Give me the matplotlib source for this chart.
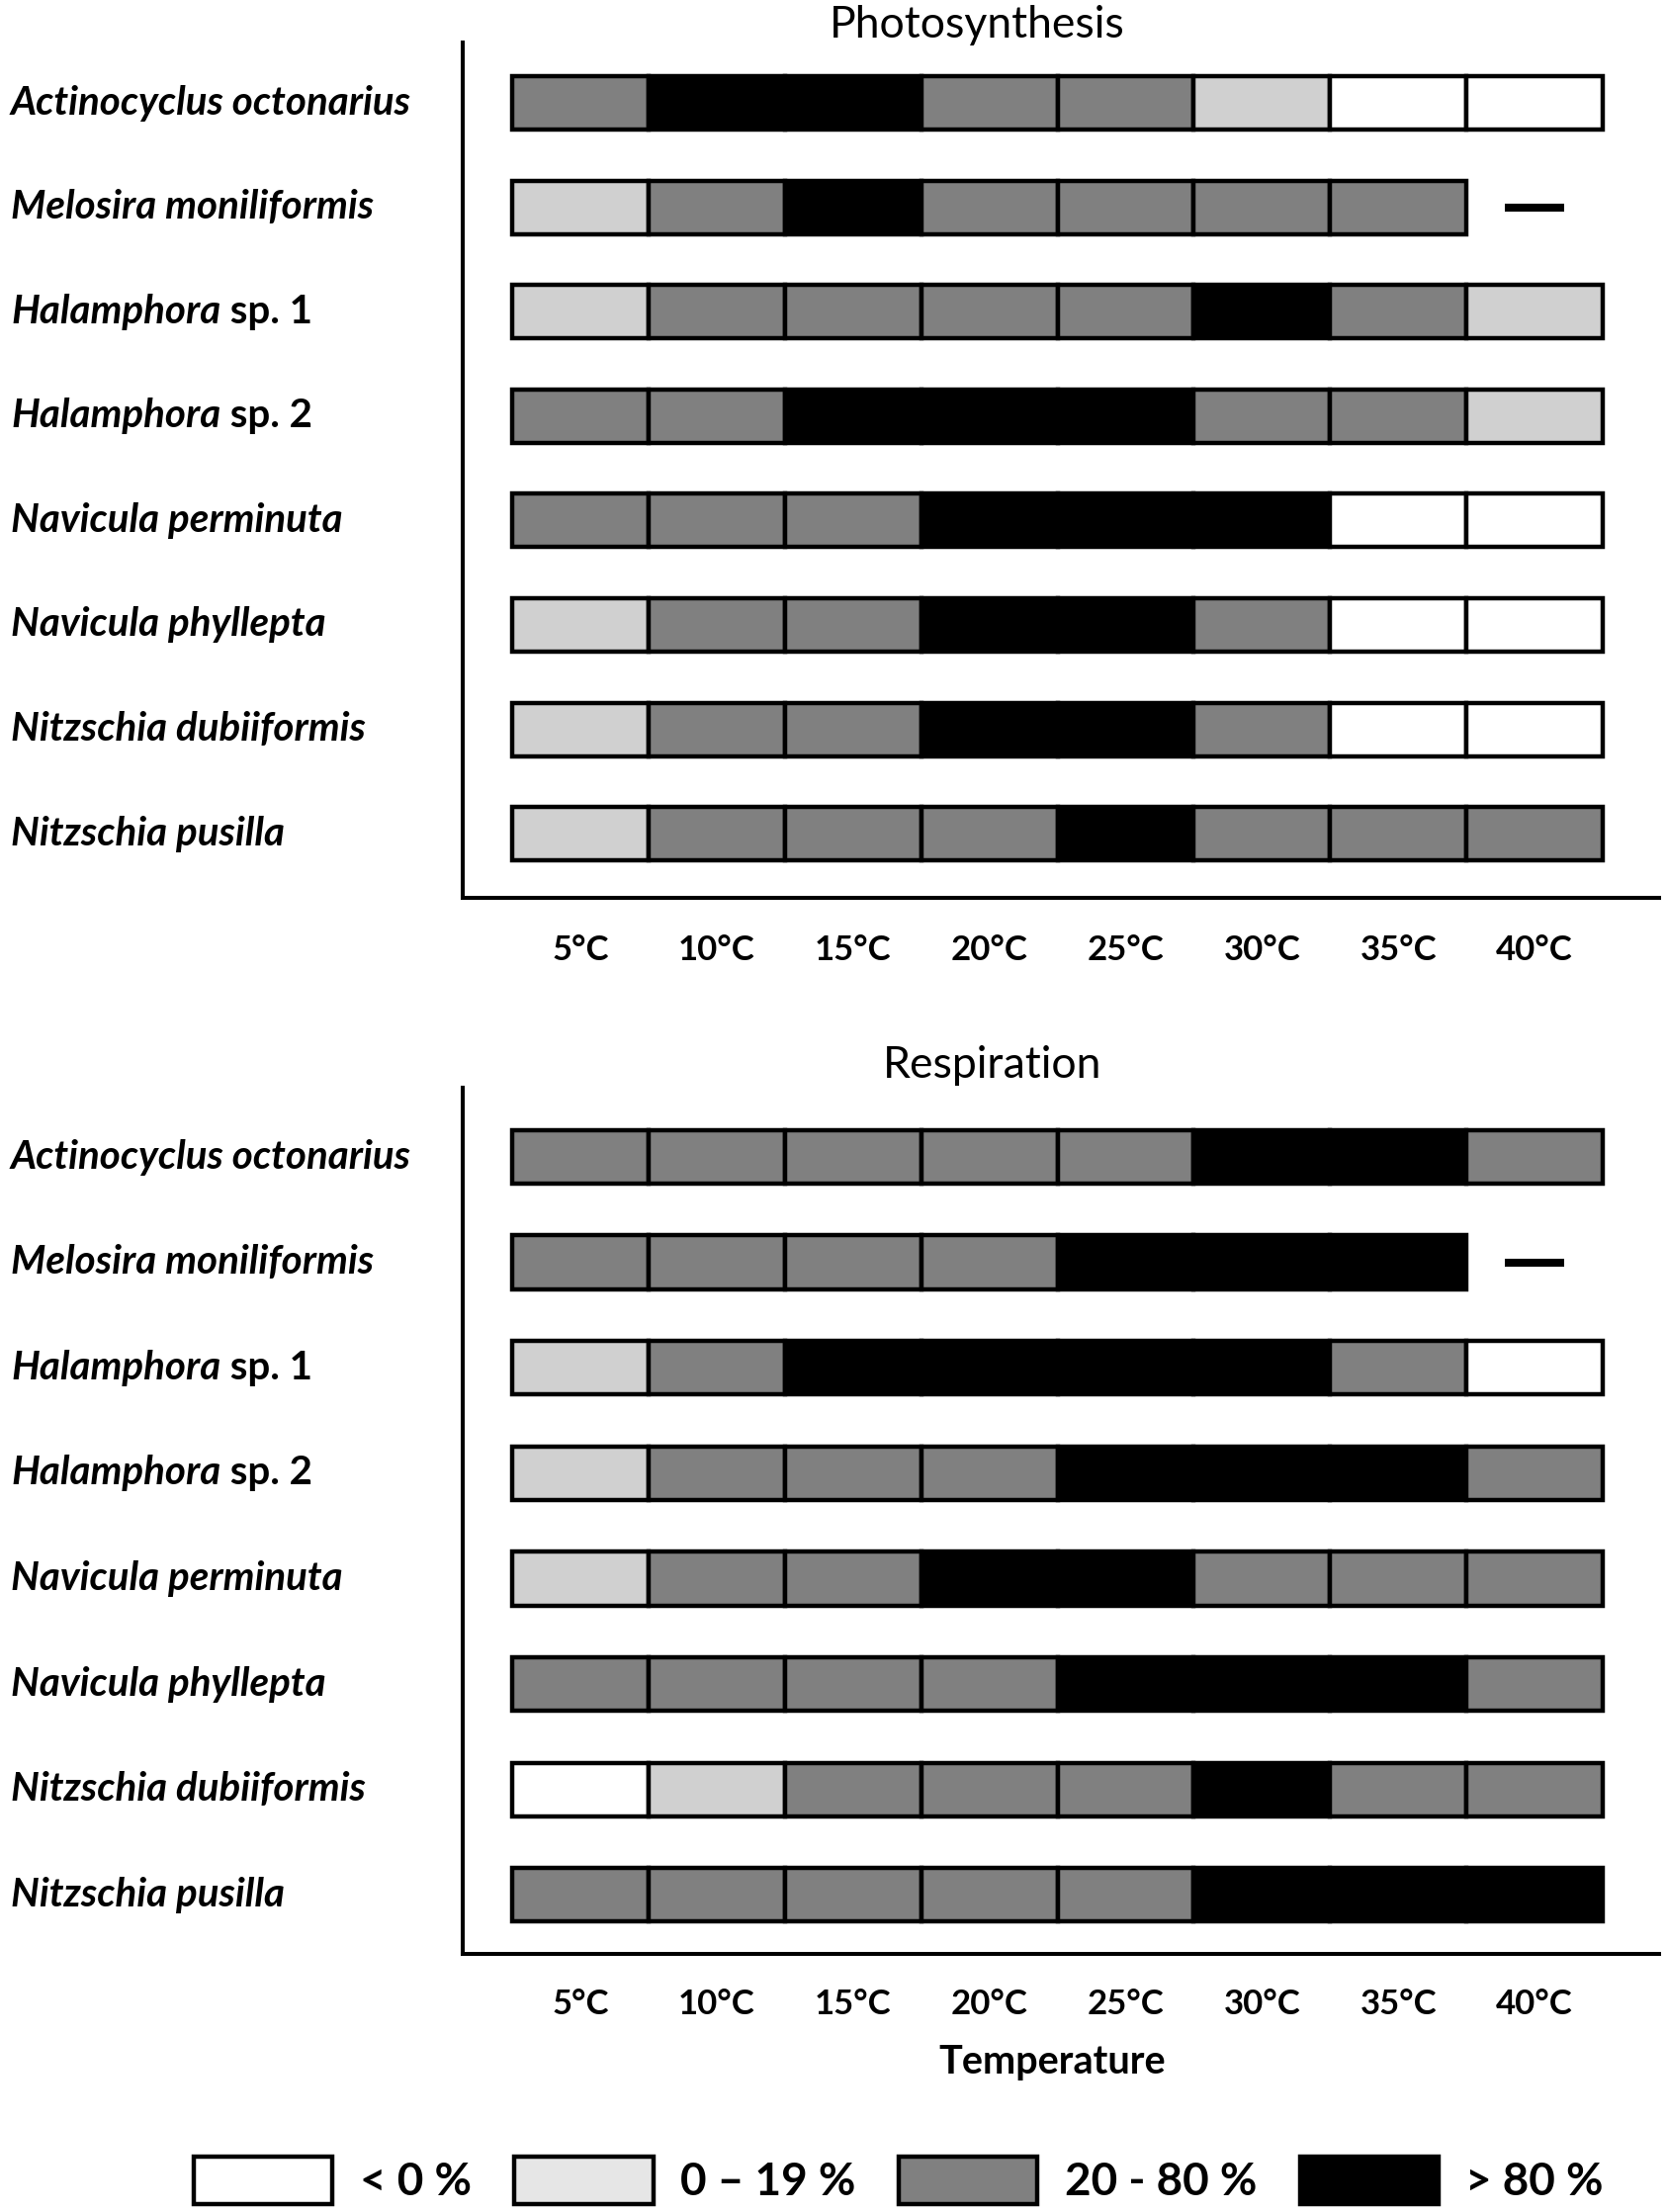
import matplotlib
matplotlib.use('Agg')
import matplotlib.pyplot as plt
from matplotlib.patches import Patch
from matplotlib.transforms import blended_transform_factory

plt.rcParams['font.family'] = ['Lato', 'DejaVu Sans']

species = ["Actinocyclus octonarius", "Melosira moniliformis", "Halamphora sp. 1",
           "Halamphora sp. 2", "Navicula perminuta", "Navicula phyllepta",
           "Nitzschia dubiiformis", "Nitzschia pusilla"]
temperatures = ["5°C", "10°C", "15°C", "20°C", "25°C", "30°C", "35°C", "40°C"]

# category index: 0 '< 0 %', 1 '0 – 19 %', 2 '20 - 80 %', 3 '> 80 %', None = not measured
photosynthesis = [
    [2, 3, 3, 2, 2, 1, 0, 0],
    [1, 2, 3, 2, 2, 2, 2, None],
    [1, 2, 2, 2, 2, 3, 2, 1],
    [2, 2, 3, 3, 3, 2, 2, 1],
    [2, 2, 2, 3, 3, 3, 0, 0],
    [1, 2, 2, 3, 3, 2, 0, 0],
    [1, 2, 2, 3, 3, 2, 0, 0],
    [1, 2, 2, 2, 3, 2, 2, 2],
]
respiration = [
    [2, 2, 2, 2, 2, 3, 3, 2],
    [2, 2, 2, 2, 3, 3, 3, None],
    [1, 2, 3, 3, 3, 3, 2, 0],
    [1, 2, 2, 2, 3, 3, 3, 2],
    [1, 2, 2, 3, 3, 2, 2, 2],
    [2, 2, 2, 2, 3, 3, 3, 2],
    [0, 1, 2, 2, 2, 3, 2, 2],
    [2, 2, 2, 2, 2, 3, 3, 3],
]
category_labels = ["< 0 %", "0 – 19 %", "20 - 80 %", "> 80 %"]
cell_colors = ["#FFFFFF", "#D0D0D0", "#808080", "#000000"]
legend_colors = ["#FFFFFF", "#E6E6E6", "#808080", "#000000"]

W, H = 1685, 2237
fig = plt.figure(figsize=(W / 100, H / 100), dpi=100)

LABEL_FS = 29
TICK_FS = 25


def draw_panel(rect, values, ylim, title, title_xy, tick_pad):
    ax = fig.add_axes(rect)
    for i, row in enumerate(values):
        for j, v in enumerate(row):
            if v is None:
                ax.plot([j - 0.22, j + 0.22], [i, i], color='black', lw=5.8,
                        solid_capstyle='butt')
            else:
                ax.barh(i, 1, left=j - 0.5, height=0.51, color=cell_colors[v],
                        edgecolor='black', linewidth=3.2)
    ax.set_xlim(-0.8626, 7.913)
    ax.set_ylim(*ylim)
    for s in ['top', 'right']:
        ax.spines[s].set_visible(False)
    for s in ['left', 'bottom']:
        ax.spines[s].set_linewidth(2.9)
    ax.set_yticks([])
    ax.set_xticks(range(len(temperatures)))
    ax.set_xticklabels(temperatures, fontweight='bold', fontsize=TICK_FS)
    ax.tick_params(axis='x', length=0, pad=tick_pad)
    tr = blended_transform_factory(fig.transFigure, ax.transData)
    for i, name in enumerate(species):
        if " sp. " in name:
            genus, rest = name.split(" sp. ")
            t = ax.text(11 / W, i, genus, transform=tr, ha='left', va='center',
                        fontsize=LABEL_FS, fontweight='bold', fontstyle='italic')
            ax.annotate(" sp. " + rest, xy=(1, 0.5), xycoords=t, ha='left', va='center',
                        fontsize=LABEL_FS, fontweight='bold')
        else:
            ax.text(11 / W, i, name, transform=tr, ha='left', va='center',
                    fontsize=LABEL_FS, fontweight='bold', fontstyle='italic')
    fig.text(title_xy[0] / W, 1 - title_xy[1] / H, title, ha='center', va='center',
             fontsize=32)
    return ax


draw_panel([468 / W, 1 - 908 / H, (1678 - 468) / W, (908 - 43) / H], photosynthesis,
           (7.614, -0.578), "Photosynthesis", (988, 26), 27)
draw_panel([468 / W, 1 - 1976 / H, (1678 - 468) / W, (1976 - 1100) / H], respiration,
           (7.56, -0.657), "Respiration", (1004, 1077), 25)

fig.text(1064 / W, 1 - 2085 / H, "Temperature", ha='center', va='center',
         fontsize=28.5, fontweight='bold')

handles = [Patch(facecolor=c, edgecolor='black', linewidth=3.2) for c in legend_colors]
fig.legend(handles, category_labels, ncol=4, loc='center',
           bbox_to_anchor=(909 / W, 1 - 2205 / H), frameon=False,
           prop=dict(weight='bold', size=33), handlelength=3.06, handleheight=1.25,
           handletextpad=0.6, columnspacing=0.95, borderpad=0)

fig.savefig('out.png', dpi=100)
